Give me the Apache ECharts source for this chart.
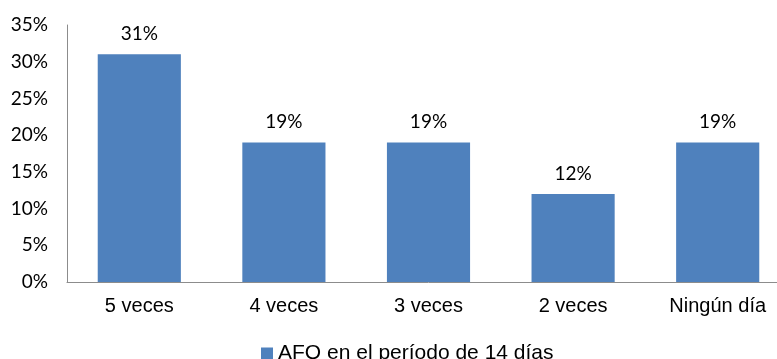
<!DOCTYPE html>
<html>
<head>
<meta charset="utf-8">
<script src="https://cdn.jsdelivr.net/npm/echarts@6/dist/echarts.min.js"></script>
<style>
  html, body { margin: 0; padding: 0; background: #fff; overflow: hidden; }
  /* the plot area extends slightly past the visible right edge */
  #chart { width: 790px; height: 359px; }
</style>
</head>
<body>
<div id="chart"></div>
<script>
// Frequency categories and their share of respondents (%)
const categories = ['5 veces', '4 veces', '3 veces', '2 veces', 'Ningún día'];
const values = [31, 19, 19, 12, 19];
const seriesName = 'AFO en el período de 14 días';
const yTicks = [0, 5, 10, 15, 20, 25, 30, 35];

const chart = echarts.init(document.getElementById('chart'), null, { renderer: 'canvas' });

chart.setOption({
  animation: false,
  backgroundColor: '#ffffff',
  grid: { left: 67, right: 0, top: 25, height: 257, containLabel: false },
  legend: {
    left: 256,
    top: 338,
    itemWidth: 12,
    itemHeight: 12,
    icon: 'rect',
    textStyle: { fontFamily: 'Liberation Sans, Arial, sans-serif', fontSize: 21, color: '#000' },
    data: [seriesName]
  },
  xAxis: {
    type: 'category',
    data: categories,
    axisLine: { lineStyle: { color: '#8c8c8c', width: 1 } },
    axisTick: { show: false },
    axisLabel: {
      margin: 14,
      fontFamily: 'Liberation Sans, Arial, sans-serif',
      fontSize: 20,
      color: '#000'
    }
  },
  yAxis: {
    type: 'value',
    min: yTicks[0],
    max: yTicks[yTicks.length - 1],
    interval: 5,
    axisLine: { show: true, lineStyle: { color: '#8c8c8c', width: 1 } },
    axisTick: { show: false },
    splitLine: { show: false },
    axisLabel: {
      margin: 19,
      fontFamily: 'Lato, "Noto Sans", sans-serif',
      fontSize: 19,
      color: '#000',
      formatter: v => v + '%'
    }
  },
  series: [{
    name: seriesName,
    type: 'bar',
    data: values,
    barWidth: '57.5%',
    itemStyle: { color: '#4F81BD' },
    label: {
      show: true,
      position: 'top',
      distance: 11,
      fontFamily: 'Lato, "Noto Sans", sans-serif',
      fontSize: 19,
      color: '#000',
      formatter: p => p.value + '%'
    }
  }]
});
</script>
</body>
</html>
